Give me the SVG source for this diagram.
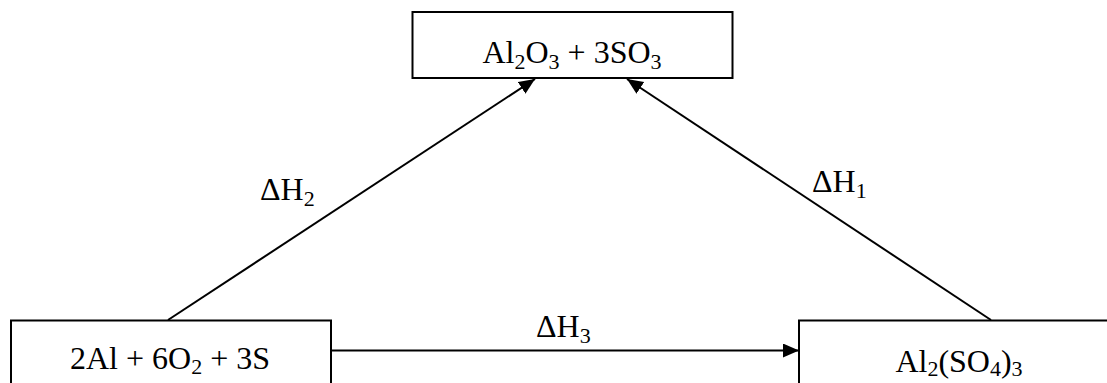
<svg xmlns="http://www.w3.org/2000/svg" width="1107" height="383" viewBox="0 0 1107 383">
<style>
.box{fill:#fff;stroke:#000;stroke-width:2}
.t{font-family:"Liberation Serif","Times New Roman",serif;font-size:32px;fill:#000}
.s{font-size:22px}
.c{stroke:#000;stroke-width:2;fill:none}
</style>
<defs>
<marker id="ah" markerUnits="userSpaceOnUse" markerWidth="18" markerHeight="16" refX="16" refY="7" orient="auto">
<path d="M0,0 L16,7 L0,14 Z" fill="#000"/>
</marker>
</defs>
<rect width="1107" height="383" fill="#fff"/>
<g id="connectors">
<line class="c" x1="168" y1="320" x2="535" y2="79" marker-end="url(#ah)"/>
<line class="c" x1="991" y1="320" x2="627" y2="79" marker-end="url(#ah)"/>
<line class="c" x1="331" y1="350.5" x2="799" y2="350.5" marker-end="url(#ah)"/>
<text class="t" x="260" y="200">ΔH<tspan class="s" dy="6">2</tspan></text>
<text class="t" x="812" y="192">ΔH<tspan class="s" dy="6">1</tspan></text>
<text class="t" x="536" y="337">ΔH<tspan class="s" dy="6">3</tspan></text>
</g>
<g id="products">
<rect class="box" x="412.5" y="12" width="320" height="66"/>
<text class="t" x="572" y="63" text-anchor="middle">Al<tspan class="s" dy="6">2</tspan><tspan dy="-6">O</tspan><tspan class="s" dy="6">3</tspan><tspan dy="-6"> + 3SO</tspan><tspan class="s" dy="6">3</tspan></text>
</g>
<g id="elements">
<rect class="box" x="11" y="320.5" width="320" height="80"/>
<text class="t" x="170" y="369" text-anchor="middle">2Al + 6O<tspan class="s" dy="5">2</tspan><tspan dy="-5"> + 3S</tspan></text>
</g>
<g id="sulfate">
<rect class="box" x="799" y="320.5" width="330" height="80"/>
<text class="t" x="959" y="372" text-anchor="middle">Al<tspan class="s" dy="4">2</tspan><tspan dy="-4">(SO</tspan><tspan class="s" dy="4">4</tspan><tspan dy="-4">)</tspan><tspan class="s" dy="4">3</tspan></text>
</g>
</svg>
